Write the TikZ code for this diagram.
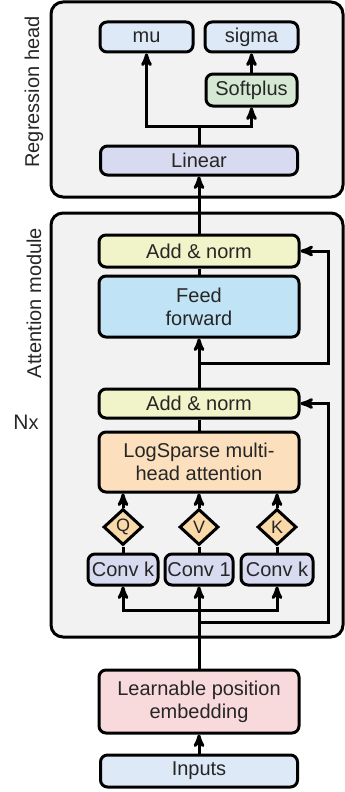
\documentclass[tikz,border=0pt]{standalone}
\usepackage{fontspec}
\setmainfont{Liberation Sans}
\usetikzlibrary{arrows,shapes.geometric}
\definecolor{panel}{HTML}{F2F2F2}
\definecolor{outblue}{HTML}{DDE9F7}
\definecolor{softgreen}{HTML}{D5E8D4}
\definecolor{lavender}{HTML}{D8DAF0}
\definecolor{normyellow}{HTML}{F1F4C8}
\definecolor{ffblue}{HTML}{C0E4F5}
\definecolor{attorange}{HTML}{FCE0BE}
\definecolor{qkvorange}{HTML}{FAD9A8}
\definecolor{embpink}{HTML}{F9DADC}
\definecolor{ink}{HTML}{262626}

\begin{document}
\begin{tikzpicture}[x=1pt,y=-1pt,>=stealth',line width=3pt,
                    font=\fontsize{20}{23}\selectfont,text=ink]
  \tikzstyle{block}=[draw=black,rounded corners=7pt,align=center,inner sep=0pt]
  \tikzstyle{qkv}=[draw=black,diamond,fill=qkvorange,inner sep=0pt,
                   minimum width=39pt,minimum height=36pt,font=\fontsize{18}{20}\selectfont]
  \tikzstyle{group}=[draw=black,fill=panel,rounded corners=12pt,line width=3pt]
  \tikzstyle{flow}=[->,line width=3pt]

  \useasboundingbox (0,0) rectangle (345,792);

  % panels
  \draw[group] (51,2) rectangle (343,197);
  \draw[group] (51,213) rectangle (343,637);
  \node[rotate=90] (headlbl) at (34,92) {Regression head};
  \node[rotate=90] (attlbl) at (34,303) {Attention module};
  \node (nx) at (26,422) {{\fontsize{21}{23}\selectfont N}x};

  % regression head
  \node[block,fill=outblue,minimum width=93pt,minimum height=30pt] (mu) at (146.5,37) {mu};
  \node[block,fill=outblue,minimum width=93pt,minimum height=30pt] (sigma) at (251.5,37) {sigma};
  \node[block,fill=softgreen,minimum width=91pt,minimum height=32pt] (soft) at (251.5,90) {Softplus};
  \node[block,fill=lavender,minimum width=197pt,minimum height=29pt] (lin) at (199,160.5) {Linear};

  % attention module
  \node[block,fill=normyellow,minimum width=200pt,minimum height=32pt] (add1) at (199,251) {Add \& norm};
  \node[block,fill=ffblue,minimum width=200pt,minimum height=61pt] (ff) at (199,306.5) {Feed\\forward};
  \node[block,fill=normyellow,minimum width=200pt,minimum height=29pt] (add2) at (199,403.5) {Add \& norm};
  \node[block,fill=attorange,minimum width=200pt,minimum height=60pt] (att) at (199,462) {LogSparse multi-\\head attention};
  \node[qkv] (q) at (123,527) {Q};
  \node[qkv] (v) at (199,527) {V};
  \node[qkv] (k) at (277,527) {K};
  \node[block,fill=lavender,minimum width=70pt,minimum height=31pt] (convq) at (123,569.5) {Conv k};
  \node[block,fill=lavender,minimum width=68pt,minimum height=31pt] (convv) at (199,569.5) {Conv 1};
  \node[block,fill=lavender,minimum width=72pt,minimum height=31pt] (convk) at (277,569.5) {Conv k};

  % input side
  \node[block,fill=embpink,minimum width=200pt,minimum height=63pt] (emb) at (199,701.5) {Learnable position\\embedding};
  \node[block,fill=outblue,minimum width=197pt,minimum height=32pt] (inp) at (199,771) {Inputs};

  \coordinate (split) at (199,610);
  \coordinate (res1) at (199,622);
  \coordinate (res1r) at (328,622);
  \coordinate (res2) at (199,363);
  \coordinate (res2r) at (328,363);
  \coordinate (fork) at (199,126);

  \draw[flow] (inp) -- (emb);
  \draw[flow] (emb) -- (convv);
  \draw[flow] (split) -| (convq.south);
  \draw[flow] (split) -| (convk.south);
  \draw[flow] (res1) -- (res1r) |- (add2.east);
  \foreach \c/\d in {convq/q,convv/v,convk/k}{
    \draw (\c) -- (\d);
    \draw[flow] (\d.north) -- (\d.north |- att.south);
  }
  \draw (att) -- (add2);
  \draw[flow] (add2) -- (ff);
  \draw[flow] (res2) -- (res2r) |- (add1.east);
  \draw (ff) -- (add1);
  \draw[flow] (add1) -- (lin);
  \draw (lin) -- (fork);
  \draw[flow] (fork) -| (mu.south);
  \draw[flow] (fork) -| (soft.south);
  \draw[flow] (soft) -- (sigma);
\end{tikzpicture}
\end{document}
